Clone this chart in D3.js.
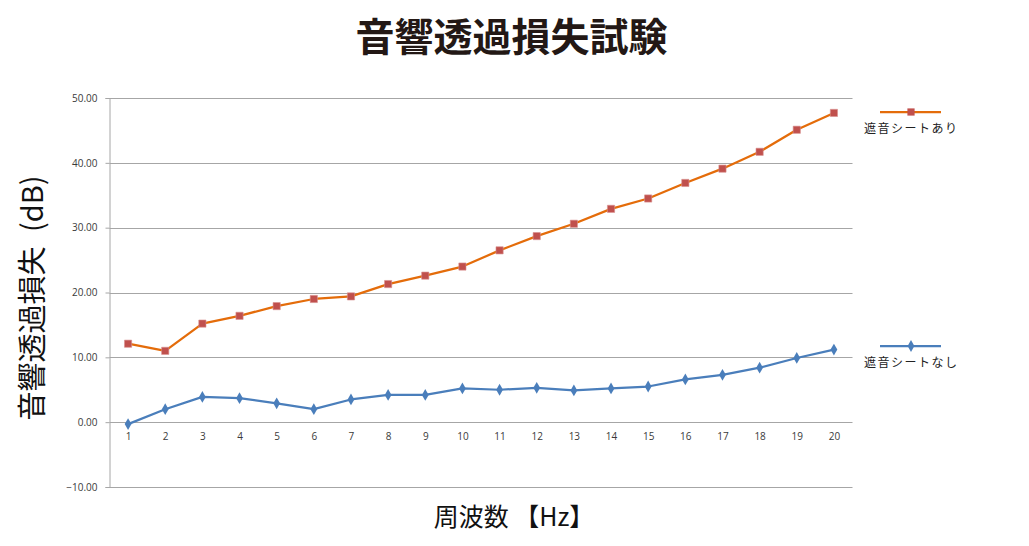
<!DOCTYPE html>
<html><head><meta charset="utf-8">
<script src="https://cdn.jsdelivr.net/npm/d3@7"></script>
<style>
html,body{margin:0;padding:0;background:#fff;}
svg{display:block;}
</style></head>
<body>
<svg id="chart" width="1029" height="546"></svg>
<script>
const categories = ["1","2","3","4","5","6","7","8","9","10","11","12","13","14","15","16","17","18","19","20"];
const withSheet = [12.1,11.0,15.2,16.4,17.9,19.0,19.4,21.3,22.6,24.0,26.5,28.7,30.6,32.9,34.5,36.9,39.1,41.7,45.1,47.7];
const withoutSheet = [-0.3,2.0,3.9,3.7,2.9,2.0,3.5,4.2,4.2,5.2,5.0,5.3,4.9,5.2,5.5,6.6,7.3,8.4,9.9,11.2];
const yTicks = [-10,0,10,20,30,40,50];
const seriesNames = ["遮音シートあり","遮音シートなし"];
const title = "音響透過損失試験";
const yTitle = "音響透過損失\u2002(dB)";
const xTitle = "周波数 【Hz】";

(function () {
const svg = d3.select("#chart");
const pL = 109.5, pR = 852.5, pT = 98, pB = 487;
const x = d3.scalePoint().domain(categories).range([pL, pR]).padding(0.5);
const y = d3.scaleLinear().domain([-10, 50]).range([pB, pT]);
const jp = "'Noto Sans CJK JP', 'Noto Sans', sans-serif";
const num = "'Open Sans', 'DejaVu Sans', sans-serif";

// gridlines
svg.append("g").selectAll("line").data(yTicks).join("line")
  .attr("x1", pL).attr("x2", pR)
  .attr("y1", d => Math.round(y(d)) + 0.5).attr("y2", d => Math.round(y(d)) + 0.5)
  .attr("stroke", "#a6a6a6").attr("stroke-width", 1);

// y axis
const yAxis = d3.axisLeft(y).tickValues(yTicks).tickFormat(d3.format(".2f")).tickSize(4).tickPadding(8);
const gy = svg.append("g").attr("transform", `translate(${pL},0)`).call(yAxis);
gy.select(".domain").attr("stroke", "#a6a6a6");
gy.selectAll(".tick line").attr("stroke", "#a6a6a6");
gy.selectAll("text").attr("font-family", num).attr("font-size", 10).attr("fill", "#3a3a3a");

// x labels at y=0 line
const xAxis = d3.axisBottom(x).tickSize(0).tickPadding(11);
const gx = svg.append("g").attr("transform", `translate(0,${y(0)})`).call(xAxis);
gx.select(".domain").remove();
gx.selectAll("text").attr("font-family", num).attr("font-size", 10).attr("fill", "#3a3a3a");

// lines
const line = d3.line().x((d, i) => x(categories[i])).y(d => y(d));
svg.append("path").datum(withSheet).attr("d", line).attr("fill", "none")
  .attr("stroke", "#e46c0a").attr("stroke-width", 2.25).attr("stroke-linejoin", "round");
svg.append("path").datum(withoutSheet).attr("d", line).attr("fill", "none")
  .attr("stroke", "#4a7ebb").attr("stroke-width", 2.25).attr("stroke-linejoin", "round");

const sq = d3.symbol().type(d3.symbolSquare).size(52);
const dia = d3.symbol().type(d3.symbolDiamond).size(40);
svg.append("g").selectAll("path").data(withSheet).join("path")
  .attr("d", sq).attr("transform", (d, i) => `translate(${x(categories[i])},${y(d)})`)
  .attr("fill", "#c0504d").attr("stroke", "#d9908e").attr("stroke-width", 0.6);
svg.append("g").selectAll("path").data(withoutSheet).join("path")
  .attr("d", dia).attr("transform", (d, i) => `translate(${x(categories[i])},${y(d)})`)
  .attr("fill", "#4a7ebb");

// legend
const legend = [
  {name: seriesNames[0], ly: 112, ty: 133, color: "#e46c0a", mcolor: "#c0504d", sym: sq},
  {name: seriesNames[1], ly: 346, ty: 367, color: "#4a7ebb", mcolor: "#4a7ebb", sym: dia}
];
legend.forEach(l => {
  svg.append("line").attr("x1", 880).attr("x2", 941).attr("y1", l.ly).attr("y2", l.ly)
    .attr("stroke", l.color).attr("stroke-width", 2.25);
  svg.append("path").attr("d", l.sym).attr("transform", `translate(911,${l.ly})`).attr("fill", l.mcolor);
  svg.append("text").attr("x", 864).attr("y", l.ty).text(l.name)
    .attr("font-family", jp).attr("font-size", 12).attr("letter-spacing", 1.5).attr("fill", "#222");
});

// titles
svg.append("text").attr("x", 511.5).attr("y", 51).attr("text-anchor", "middle")
  .attr("font-family", jp).attr("font-weight", 700).attr("font-size", 39).attr("fill", "#231815")
  .text(title);
svg.append("text").attr("x", 514).attr("y", 526).attr("text-anchor", "middle")
  .attr("font-family", jp).attr("font-size", 25).attr("fill", "#111")
  .text(xTitle);
svg.append("text").attr("transform", "translate(43,298) rotate(-90)").attr("text-anchor", "middle")
  .attr("font-family", jp).attr("font-size", 29).attr("fill", "#111")
  .text(yTitle);
})();
</script>
</body></html>
